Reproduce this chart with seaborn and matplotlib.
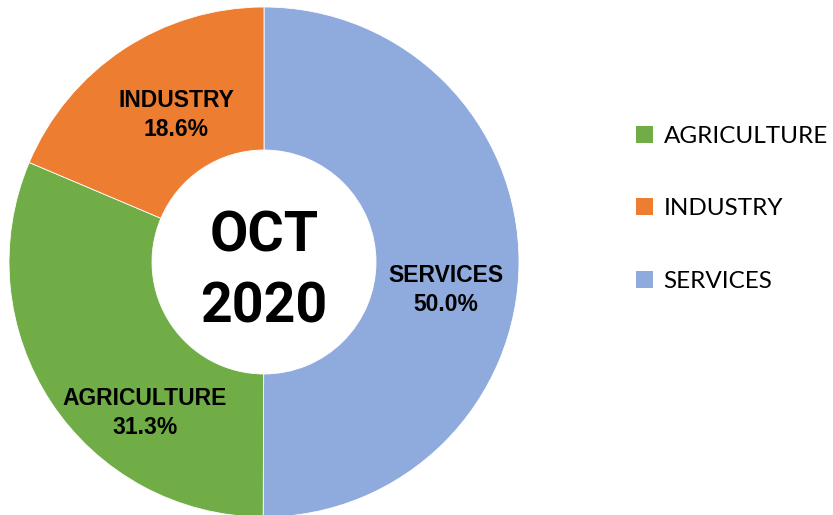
import matplotlib
matplotlib.use("Agg")
import matplotlib.pyplot as plt
import seaborn as sns
from matplotlib.patches import Patch

sns.set_theme(style="white")
plt.rcParams['font.family'] = ['Liberation Sans', 'DejaVu Sans']
plt.rcParams['text.color'] = 'black'

# data
sectors = ["SERVICES", "AGRICULTURE", "INDUSTRY"]
shares = [50.0, 31.3, 18.6]
colors = {"AGRICULTURE": "#70AD47", "INDUSTRY": "#ED7D31", "SERVICES": "#8FAADC"}
legend_order = ["AGRICULTURE", "INDUSTRY", "SERVICES"]
center_text = "OCT\n2020"

W, H = 833, 515
fig = plt.figure(figsize=(W / 100, H / 100), dpi=100)
cx, cy, R = 264, 262, 255
ax = fig.add_axes([(cx - R) / W, (H - cy - R) / H, 2 * R / W, 2 * R / H])

inner = 112 / R
wedges, _ = ax.pie(shares, colors=[colors[s] for s in sectors], startangle=90,
                   counterclock=False, radius=1,
                   wedgeprops=dict(width=1 - inner, edgecolor="white", linewidth=0.6))
ax.set_xlim(-1, 1)
ax.set_ylim(-1, 1)
ax.set_aspect("equal")
ax.axis("off")

label_pos = {"SERVICES": (446, 290), "AGRICULTURE": (145, 413), "INDUSTRY": (176, 115)}
for s, v in zip(sectors, shares):
    px, py = label_pos[s]
    x = (px - cx) / R
    y = (cy - py) / R
    ax.text(x, y, f"{s}\n{v:.1f}%", ha="center", va="center", fontsize=16.5,
            fontweight="bold", color="black", linespacing=1.3)

ax.text(0, (cy - 272) / R, center_text, ha="center", va="center", fontsize=40,
        fontweight="bold", family=["Roboto", "DejaVu Sans"], color="black",
        linespacing=1.45)

handles = [Patch(facecolor=colors[s], edgecolor="none") for s in legend_order]
fig.legend(handles, legend_order, loc="upper left", bbox_to_anchor=(626 / W, 1 - 116 / H),
           frameon=False, prop={"family": ["Lato", "DejaVu Sans"], "size": 17.5},
           handlelength=0.7, handleheight=0.7, handletextpad=0.45, labelspacing=2.12,
           borderaxespad=0, labelcolor="black")

fig.savefig("out.png", dpi=100)
